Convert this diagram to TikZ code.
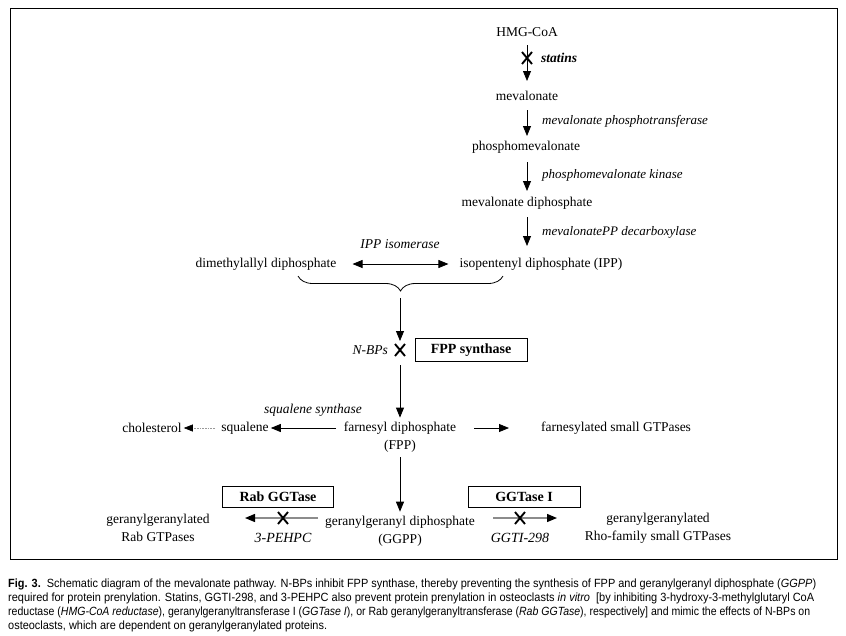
\documentclass[tikz,border=0pt]{standalone}
\usepackage{fontspec}
\usepackage{graphicx}
\setmainfont{Liberation Serif}
\newfontfamily\capfont[FakeStretch=0.92]{Liberation Sans}
\usetikzlibrary{arrows.meta,decorations.pathreplacing,calc}
\begin{document}
\begin{tikzpicture}[x=1pt,y=-1pt,
  font=\fontsize{13.5}{18}\selectfont,
  every node/.style={inner sep=2pt},
  enz/.style={font=\fontsize{13}{16}\selectfont\itshape, anchor=west, inner sep=0pt},
  itl/.style={font=\fontsize{13.5}{16}\selectfont\itshape, inner sep=0pt},
  ebox/.style={draw, line width=0.9pt, font=\fontsize{14}{16}\selectfont\bfseries, minimum height=21pt, inner xsep=0pt},
  two/.style={align=center},
  arr/.style={-{Triangle[length=10pt,width=8pt]}, line width=0.8pt},
  darr/.style={{Triangle[length=10pt,width=8pt]}-{Triangle[length=10pt,width=8pt]}, line width=0.8pt},
  garr/.style={-{Triangle[length=10pt,width=8pt,fill=black,color=black]}, line width=1.3pt, draw=black!45},
  dotarr/.style={-{Triangle[length=9pt,width=7pt,fill=black,color=black]}, line width=0.6pt, draw=black!40, densely dotted},
  xmark/.style={line width=1.9pt},
  captxt/.style={anchor=base west, inner sep=0pt, font=\capfont\fontsize{11.9}{14}\selectfont}
]
\useasboundingbox (0,0) rectangle (846,635);
\draw[line width=1pt] (10,8) rectangle (837,559);

% main column
\node (hmg) at (527,32) {HMG-CoA};
\node (mev) at (527,96) {mevalonate};
\node (pmev) at (526,147) {phosphomevalonate};
\node (mdp) at (527,203) {mevalonate diphosphate};
\node (ipp) at (541,264) {isopentenyl diphosphate (IPP)};
\node (dma) at (266,264) {dimethylallyl diphosphate};

\coordinate (xs) at (527,58);
\draw[arr] (527,45) coordinate (s1) -- (527,81) coordinate (e1);
\draw[xmark] ($(xs)+(-5,-6)$) -- ($(xs)+(5,6)$) ($(xs)+(5,-6)$) -- ($(xs)+(-5,6)$);
\node[font=\fontsize{13.5}{16}\selectfont\bfseries\itshape, anchor=west, inner sep=0pt] (statins) at (541,58) {statins};

\draw[arr] (527,110) coordinate (s2) -- (527,136) coordinate (e2);
\node[enz] (mpt) at (542,121) {mevalonate phosphotransferase};
\draw[arr] (527,162) coordinate (s3) -- (527,191) coordinate (e3);
\node[enz] (pmk) at (542,175) {phosphomevalonate kinase};
\draw[arr] (527,217) coordinate (s4) -- (527,246) coordinate (e4);
\node[enz] (mdc) at (542,232) {mevalonatePP decarboxylase};

% IPP isomerase
\draw[darr] ($(dma.east)+(14,0)$) -- ($(ipp.west)+(-9,0)$);
\node[itl] (iso) at (400,244) {IPP isomerase};

% brace
\coordinate (bl) at (298,276);
\coordinate (br) at (503,276);
\coordinate (btip) at (400,293);
\draw[line width=0.8pt, decorate, decoration={brace, amplitude=15pt, aspect=0.5, mirror}] (bl) -- (br);

% FPP synthase
\coordinate (x1) at (400,350);
\draw[arr] ($(btip)+(0,5)$) -- ($(x1)+(0,-9)$);
\draw[xmark] ($(x1)+(-5,-6)$) -- ($(x1)+(5,6)$) ($(x1)+(5,-6)$) -- ($(x1)+(-5,6)$);
\node[itl, anchor=east] (nbps) at (388,350) {N-BPs};
\node[ebox, minimum width=112pt, minimum height=23pt] (fpps) at (471,350) {FPP synthase};

\node[two] (fpp) at (400,437) {farnesyl diphosphate\\(FPP)};
\draw[arr] ($(x1)+(0,15)$) -- ($(fpp.north)+(0,-2)$);

\node (sq) at (245,428) {squalene};
\node (chol) at (152,428) {cholesterol};
\node (fgtp) at (616,428) {farnesylated small GTPases};
\node[itl] (sqs) at (313,410) {squalene synthase};
\draw[arr] (336,428) -- (sq.east);
\draw[dotarr] (215,428) -- (chol.east);
\draw[arr] (474,428) -- (509,428);

% GGPP row
\node[two] (ggpp) at (400,531) {geranylgeranyl diphosphate\\(GGPP)};
\draw[arr] ($(fpp.south)+(0,3)$) -- ($(ggpp.north)+(0,-2)$);

\node[ebox, minimum width=111pt] (rab) at (278,497) {Rab GGTase};
\node[ebox, minimum width=112pt] (ggt1) at (524,497) {GGTase I};

\node[two] (rabp) at (158,528) {geranylgeranylated\\Rab GTPases};
\node[two] (rhop) at (658,528) {geranylgeranylated\\Rho-family small GTPases};

\coordinate (x2) at (283,518);
\coordinate (x3) at (520,518);
\draw[garr] (318,518) -- (245,518);
\draw[garr] (493,518) -- (557,518);
\draw[xmark] ($(x2)+(-5,-6)$) -- ($(x2)+(5,6)$) ($(x2)+(5,-6)$) -- ($(x2)+(-5,6)$);
\draw[xmark] ($(x3)+(-5,-6)$) -- ($(x3)+(5,6)$) ($(x3)+(5,-6)$) -- ($(x3)+(-5,6)$);
\node[itl, font=\fontsize{14}{16}\selectfont\itshape] (pehpc) at (283,538) {3-PEHPC};
\node[itl, font=\fontsize{14}{16}\selectfont\itshape] (ggti) at (520,538) {GGTI-298};

% caption
\node[captxt] (c1) at (8,587) {\resizebox{808pt}{\height}{\textbf{Fig. 3.}\ \ Schematic diagram of the mevalonate pathway. N-BPs inhibit FPP synthase, thereby preventing the synthesis of FPP and geranylgeranyl diphosphate (\textit{GGPP})}};
\node[captxt] (c2) at (8,601) {\resizebox{806pt}{\height}{required for protein prenylation. Statins, GGTI-298, and 3-PEHPC also prevent protein prenylation in osteoclasts \textit{in vitro}\ \ [by inhibiting 3-hydroxy-3-methylglutaryl CoA}};
\node[captxt] (c3) at (8,615) {\resizebox{802pt}{\height}{reductase (\textit{HMG-CoA reductase}), geranylgeranyltransferase I (\textit{GGTase I}), or Rab geranylgeranyltransferase (\textit{Rab GGTase}), respectively] and mimic the effects of N-BPs on}};
\node[captxt] (c4) at (8,629) {osteoclasts, which are dependent on geranylgeranylated proteins.};
\end{tikzpicture}
\end{document}
